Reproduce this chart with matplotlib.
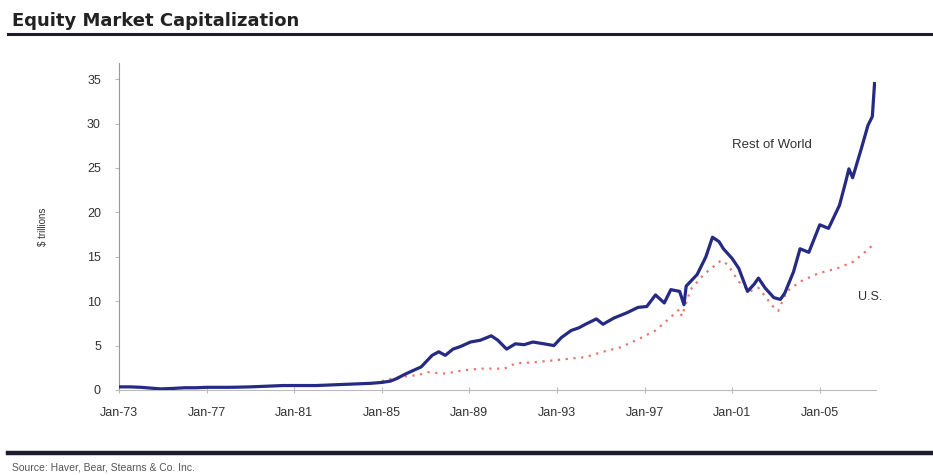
import matplotlib
matplotlib.use("Agg")
import matplotlib.pyplot as plt
from matplotlib.lines import Line2D

# Rest of World, $ trillions
row_years = [1973.0, 1973.5, 1974.0, 1974.5, 1974.9, 1975.5, 1976.0, 1976.5, 1977.0, 1977.5,
             1978.0, 1978.5, 1979.0, 1979.5, 1980.0, 1980.5, 1981.0, 1981.5, 1982.0, 1982.5,
             1983.0, 1983.5, 1984.0, 1984.5, 1985.0, 1985.4, 1985.7, 1986.0, 1986.35, 1986.8,
             1987.3, 1987.6, 1987.9, 1988.25, 1988.6, 1989.05, 1989.5, 1990.0, 1990.3, 1990.7,
             1991.1, 1991.5, 1991.9, 1992.4, 1992.86, 1993.2, 1993.65, 1994.0, 1994.3, 1994.8,
             1995.1, 1995.6, 1996.2, 1996.7, 1997.1, 1997.5, 1997.9, 1998.2, 1998.6, 1998.8,
             1998.9, 1999.4, 1999.8, 2000.1, 2000.4, 2000.6, 2001.0, 2001.3, 2001.7, 2002.0,
             2002.2, 2002.5, 2002.9, 2003.2, 2003.4, 2003.8, 2004.1, 2004.5, 2005.0, 2005.4,
             2005.9, 2006.2, 2006.33, 2006.5, 2006.9, 2007.2, 2007.4, 2007.5]
row_vals = [0.35, 0.35, 0.3, 0.2, 0.12, 0.18, 0.25, 0.25, 0.3, 0.3,
            0.3, 0.32, 0.35, 0.4, 0.45, 0.5, 0.5, 0.5, 0.5, 0.55,
            0.6, 0.65, 0.7, 0.75, 0.85, 1.0, 1.3, 1.7, 2.1, 2.6,
            3.9, 4.3, 3.9, 4.6, 4.9, 5.4, 5.6, 6.1, 5.6, 4.6,
            5.2, 5.1, 5.4, 5.2, 5.0, 5.9, 6.7, 7.0, 7.4, 8.0,
            7.4, 8.1, 8.7, 9.3, 9.4, 10.7, 9.8, 11.3, 11.1, 9.6,
            11.7, 13.0, 15.0, 17.2, 16.7, 15.9, 14.8, 13.7, 11.1, 11.9,
            12.6, 11.5, 10.4, 10.2, 10.9, 13.3, 15.9, 15.5, 18.6, 18.2,
            20.8, 23.6, 24.9, 23.9, 27.2, 29.8, 30.8, 34.5]

# U.S., $ trillions
us_years = [1985.0, 1985.5, 1986.0, 1986.7, 1987.1, 1987.9, 1988.7, 1989.5, 1990.6, 1991.1,
            1991.9, 1992.7, 1993.5, 1994.3, 1995.1, 1995.9, 1996.7, 1997.5, 1998.1, 1998.6,
            1998.7, 1999.1, 1999.7, 2000.5, 2000.8, 2001.3, 2001.8, 2002.2, 2002.9, 2003.1,
            2003.5, 2004.1, 2004.9, 2005.8, 2006.5, 2007.1, 2007.5]
us_vals = [1.0, 1.3, 1.5, 1.7, 2.0, 1.85, 2.2, 2.4, 2.4, 3.0,
           3.1, 3.3, 3.5, 3.7, 4.3, 4.8, 5.7, 6.7, 8.0, 9.1,
           8.3, 11.3, 13.0, 14.6, 14.1, 12.2, 11.1, 11.5, 9.3, 8.9,
           11.1, 12.2, 13.1, 13.7, 14.4, 15.6, 16.5]

tick_years = [1973, 1977, 1981, 1985, 1989, 1993, 1997, 2001, 2005]
tick_labels = ["Jan-73", "Jan-77", "Jan-81", "Jan-85", "Jan-89", "Jan-93", "Jan-97", "Jan-01", "Jan-05"]
y_ticks = [0, 5, 10, 15, 20, 25, 30, 35]

plt.rcParams['font.family'] = ['Liberation Sans', 'DejaVu Sans']

fig = plt.figure(figsize=(9.33, 4.75), dpi=100)
ax = fig.add_axes([0.1275, 0.179, 0.811, 0.688])

ax.plot(us_years, us_vals, color="#e8756c", lw=1.6, ls=(0, (1, 2.5)), zorder=2)
ax.plot(row_years, row_vals, color="#252a82", lw=2.3, zorder=3)

ax.set_xlim(1973, 2007.55)
ax.set_ylim(0, 36.8)
ax.set_xticks(tick_years)
ax.set_xticklabels(tick_labels)
ax.set_yticks(y_ticks)

for s in ["top", "right"]:
    ax.spines[s].set_visible(False)
ax.spines["left"].set_color("#999999")
ax.spines["bottom"].set_color("#bbbbbb")
ax.tick_params(axis="y", length=3, pad=10, colors="#bbbbbb", labelcolor="#333333", labelsize=9)
ax.tick_params(axis="x", direction="inout", length=5, pad=10, colors="#bbbbbb", labelcolor="#333333", labelsize=9)
ax.set_ylabel("$ trillions", fontsize=7, color="#333333", labelpad=28)

ax.text(2002.8, 27.6, "Rest of World", fontsize=9.5, color="#333333", ha="center", va="center")
ax.text(2007.3, 10.5, "U.S.", fontsize=9, color="#333333", ha="center", va="center")

# title and rules
fig.text(12 / 933, 1 - 21 / 475, "Equity Market Capitalization", fontsize=13,
         fontweight="bold", family="DejaVu Sans", color="#222222", va="center")
fig.add_artist(Line2D([8 / 933, 1], [1 - 34 / 475] * 2, color="#1c1c2c", lw=2.2))
fig.add_artist(Line2D([8 / 933, 1], [1 - 453 / 475] * 2, color="#1c1c2c", lw=3.2))
fig.text(12 / 933, 1 - 468 / 475, "Source: Haver, Bear, Stearns & Co. Inc.", fontsize=7.5,
         color="#555555", va="center")

fig.savefig("out.png", dpi=100, facecolor="white")
